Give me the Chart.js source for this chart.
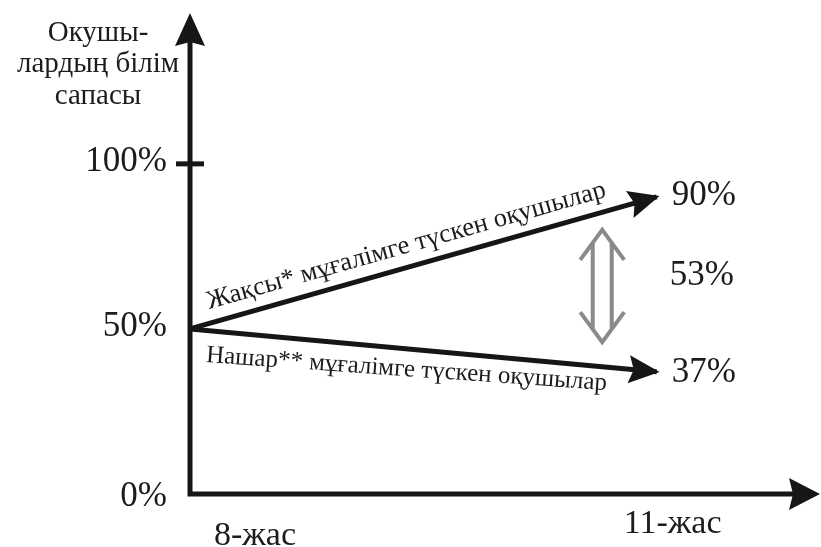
<!DOCTYPE html>
<html lang="kk">
<head>
    <meta charset="UTF-8">
    <title>Оқушылардың білім сапасы</title>
    <script src="https://cdn.jsdelivr.net/npm/chart.js@4.4.1/dist/chart.umd.min.js"></script>
    <style>
        body {
            margin: 0;
            background-color: white;
        }
        canvas {
            display: block;
        }
    </style>
</head>
<body>
    <canvas id="qualityChart" width="821" height="547"></canvas>

    <script>
        // data
        const ages = [8, 11];
        const ageLabels = ['8-жас', '11-жас'];
        const goodTeacher = [50, 90];
        const weakTeacher = [50, 37];
        const yTicks = [0, 50, 100];
        const yTickLabels = ['0%', '50%', '100%'];
        const endLabels = ['90%', '37%'];
        const gapLabel = '53%';
        const gapLabelValue = 66;
        const gapArrow = [10.65, 46, 80]; // x, bottom, top (data units)
        const titleLines = ['Окушы-', 'лардың білім', 'сапасы'];
        const seriesNames = ['Жақсы* мұғалімге түскен оқушылар', 'Нашар** мұғалімге түскен оқушылар'];

        const ink = '#161616';
        const serif = '"Liberation Serif", "DejaVu Serif", serif';

        function arrowHead(ctx, x, y, angle, len, half, notch) {
            ctx.save();
            ctx.translate(x, y);
            ctx.rotate(angle);
            ctx.beginPath();
            ctx.moveTo(0, 0);
            ctx.lineTo(-len, -half);
            ctx.lineTo(-len + notch, 0);
            ctx.lineTo(-len, half);
            ctx.closePath();
            ctx.fill();
            ctx.restore();
        }

        const decorations = {
            id: 'decorations',
            afterDatasetsDraw(chart) {
                const ctx = chart.ctx;
                const xs = chart.scales.x;
                const ys = chart.scales.y;
                const area = chart.chartArea;
                const ox = xs.getPixelForValue(ages[0]);
                const oy = ys.getPixelForValue(0);

                ctx.save();
                ctx.fillStyle = ink;
                ctx.strokeStyle = ink;
                ctx.lineWidth = 5;
                ctx.lineCap = 'butt';

                // axes
                ctx.beginPath();
                ctx.moveTo(ox, oy + 2.5);
                ctx.lineTo(ox, area.top + 25);
                ctx.moveTo(ox - 2.5, oy);
                ctx.lineTo(area.right - 25, oy);
                ctx.stroke();
                arrowHead(ctx, ox, area.top + 1, -Math.PI / 2, 33, 15, 4);
                arrowHead(ctx, area.right, oy, 0, 31, 16, 4);

                // 100% tick
                const t100 = ys.getPixelForValue(100);
                ctx.beginPath();
                ctx.moveTo(ox - 14, t100);
                ctx.lineTo(ox + 14, t100);
                ctx.stroke();

                // arrowheads at the end of each series
                [goodTeacher, weakTeacher].forEach(series => {
                    const x0 = xs.getPixelForValue(ages[0]), y0 = ys.getPixelForValue(series[0]);
                    const x1 = xs.getPixelForValue(ages[1]), y1 = ys.getPixelForValue(series[1]);
                    const a = Math.atan2(y1 - y0, x1 - x0);
                    arrowHead(ctx, x1 + 3 * Math.cos(a), y1 + 3 * Math.sin(a), a, 31, 14, 5);
                });

                // texts
                ctx.fillStyle = '#1c1c1c';
                ctx.textBaseline = 'middle';

                ctx.font = '29px ' + serif;
                ctx.textAlign = 'center';
                titleLines.forEach((line, i) => ctx.fillText(line, 98, 33 + i * 31.5));

                ctx.font = '35px ' + serif;
                ctx.textAlign = 'right';
                yTicks.forEach((v, i) => {
                    ctx.fillText(yTickLabels[i], ox - 23, ys.getPixelForValue(v) + (v === 0 ? 3 : -2));
                });

                ctx.textAlign = 'left';
                const endX = xs.getPixelForValue(ages[1]) + 15;
                ctx.fillText(endLabels[0], endX, ys.getPixelForValue(goodTeacher[1]) - 1);
                ctx.fillText(endLabels[1], endX, ys.getPixelForValue(weakTeacher[1]) + 1);
                ctx.fillText(gapLabel, endX - 2, ys.getPixelForValue(gapLabelValue));

                ctx.font = '34px ' + serif;
                ctx.textAlign = 'center';
                ctx.fillText(ageLabels[0], xs.getPixelForValue(ages[0]) + 65, oy + 42);
                ctx.fillText(ageLabels[1], xs.getPixelForValue(ages[1]) + 16, oy + 30);

                // rotated series labels
                ctx.textAlign = 'left';
                ctx.textBaseline = 'alphabetic';
                [[goodTeacher, -14, 0, 24, 26.5], [weakTeacher, 32, -0.022, 18, 25]].forEach(([series, off, tilt, along, size], i) => {
                    const x0 = xs.getPixelForValue(ages[0]), y0 = ys.getPixelForValue(series[0]);
                    const x1 = xs.getPixelForValue(ages[1]), y1 = ys.getPixelForValue(series[1]);
                    const a = Math.atan2(y1 - y0, x1 - x0) + tilt;
                    ctx.font = size + 'px ' + serif;
                    ctx.save();
                    ctx.translate(x0, y0);
                    ctx.rotate(a);
                    ctx.fillText(seriesNames[i], along, off);
                    ctx.restore();
                });

                // grey double arrow
                const gx = xs.getPixelForValue(gapArrow[0]);
                const gb = ys.getPixelForValue(gapArrow[1]);
                const gt = ys.getPixelForValue(gapArrow[2]);
                const head = 30, wing = 22, shaft = 9.5;
                const meet = head * shaft / wing;
                ctx.strokeStyle = '#8a8a8a';
                ctx.lineWidth = 4;
                ctx.lineJoin = 'miter';
                ctx.beginPath();
                ctx.moveTo(gx - wing, gt + head);
                ctx.lineTo(gx, gt);
                ctx.lineTo(gx + wing, gt + head);
                ctx.moveTo(gx - wing, gb - head);
                ctx.lineTo(gx, gb);
                ctx.lineTo(gx + wing, gb - head);
                ctx.moveTo(gx - shaft, gt + meet);
                ctx.lineTo(gx - shaft, gb - meet);
                ctx.moveTo(gx + shaft, gt + meet);
                ctx.lineTo(gx + shaft, gb - meet);
                ctx.stroke();

                ctx.restore();
            }
        };

        const chart = new Chart(document.getElementById('qualityChart'), {
            type: 'line',
            data: {
                datasets: [
                    {
                        label: seriesNames[0],
                        data: ages.map((a, i) => ({ x: a, y: goodTeacher[i] })),
                        borderColor: ink,
                        borderWidth: 5,
                        pointRadius: 0,
                        tension: 0
                    },
                    {
                        label: seriesNames[1],
                        data: ages.map((a, i) => ({ x: a, y: weakTeacher[i] })),
                        borderColor: ink,
                        borderWidth: 5,
                        pointRadius: 0,
                        tension: 0
                    }
                ]
            },
            options: {
                responsive: false,
                animation: false,
                layout: {
                    padding: { left: 190, right: 1, top: 12, bottom: 53 }
                },
                plugins: {
                    legend: { display: false },
                    tooltip: { enabled: false }
                },
                scales: {
                    x: { type: 'linear', min: 8, max: 12.05, display: false },
                    y: { min: 0, max: 146, display: false }
                }
            },
            plugins: [decorations]
        });
    </script>
</body>
</html>
